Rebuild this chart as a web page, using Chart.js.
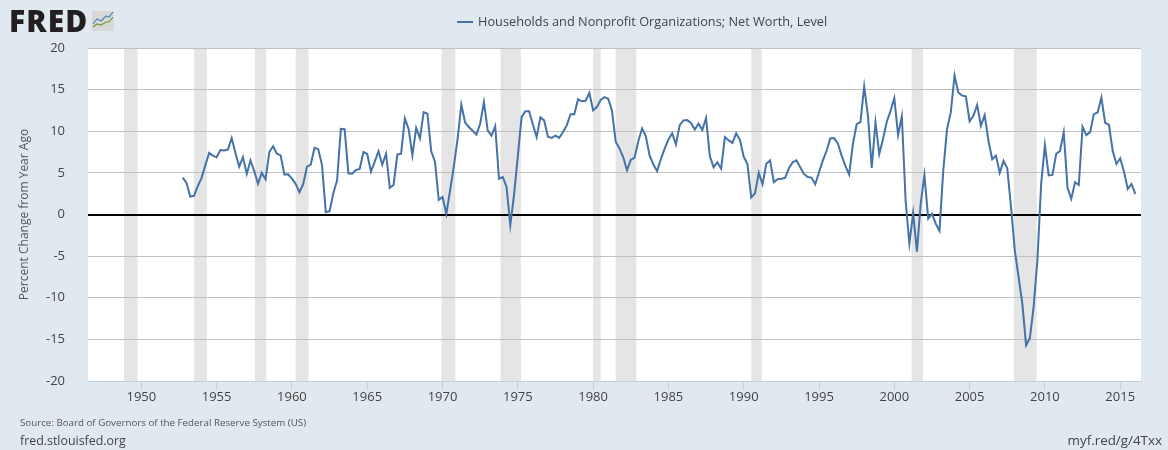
<!DOCTYPE html>
<html>
<head>
<meta charset="utf-8">
<script src="https://cdn.jsdelivr.net/npm/chart.js@4"></script>
<style>
    html, body { margin: 0; padding: 0; background: #e1e9f0; }
    #wrap { position: relative; width: 1168px; height: 450px; overflow: hidden; font-family: 'Open Sans', sans-serif; color: #444; }
    #wrap div { position: absolute; white-space: nowrap; }
    #logo { left: 9px; top: 0px; font-size: 30px; line-height: 42px; font-weight: 800; color: #231f20; letter-spacing: 1.1px; }
    #icon { position: absolute; left: 92px; top: 11px; }
    #legend { left: 457px; top: 12px; font-size: 12.75px; line-height: 18px; color: #444; }
    #legend span { display: inline-block; width: 16px; height: 2px; background: #4572a7; vertical-align: middle; margin-right: 5px; margin-top: -2px; }
    #source { left: 20px; top: 416px; font-size: 9.75px; line-height: 14px; color: #555; }
    #site { left: 20px; top: 432px; font-size: 12.4px; line-height: 17px; color: #444; }
    #short { right: 6px; top: 432px; font-size: 13.4px; line-height: 17px; color: #444; }
</style>
</head>
<body>
<div id="wrap">
    <canvas id="fredChart" width="1168" height="450" style="position:absolute;left:0;top:0"></canvas>
    <div id="logo">FRED</div>
    <svg id="icon" width="22" height="20" viewBox="0 0 22 20">
        <rect width="22" height="20" rx="1.5" fill="#d8d8d8"/>
        <polyline points="1,13 5,8 9,10 14,5 17,6 21,1" fill="none" stroke="#4f86ad" stroke-width="1.2"/>
        <polyline points="1,16 5,13 9,14 14,11 17,11 21,6" fill="none" stroke="#6f9a3a" stroke-width="1.2"/>
    </svg>
    <div id="legend"><span></span>Households and Nonprofit Organizations; Net Worth, Level</div>
    <div id="source">Source: Board of Governors of the Federal Reserve System (US)</div>
    <div id="site">fred.stlouisfed.org</div>
    <div id="short">myf.red/g/4Txx</div>
</div>
<script>
// Percent change from year ago, quarterly, first point is 1952 Q4
const firstQuarter = 1952.75;
const netWorthChange = [
    4.43, 3.8, 2.16, 2.24, 3.4, 4.4, 5.9, 7.4, 7.07, 6.87, 7.74, 7.7, 7.8, 9.18, 7.4, 5.75,
    6.9, 4.87, 6.5, 5.2, 3.7, 5.0, 4.23, 7.5, 8.2, 7.3, 7.1, 4.8, 4.83, 4.3, 3.67, 2.67,
    3.63, 5.75, 6.0, 8.0, 7.85, 5.9, 0.28, 0.4, 2.55, 4.1, 10.3, 10.26, 4.95, 4.9, 5.35, 5.47,
    7.5, 7.27, 5.15, 6.35, 7.6, 6.0, 7.3, 3.2, 3.55, 7.2, 7.3, 11.54, 10.26, 7.1, 10.4, 9.14,
    12.3, 12.1, 7.6, 6.35, 1.76, 2.1, 0.1, 2.85, 5.75, 9.06, 13.2, 11.05, 10.5, 10.06, 9.6, 10.9,
    13.5, 10.1, 9.46, 10.6, 4.3, 4.5, 3.35, -1.28, 2.4, 7.0, 11.7, 12.4, 12.4, 10.8, 9.3, 11.66,
    11.3, 9.34, 9.2, 9.46, 9.2, 9.9, 10.7, 12.05, 12.05, 13.85, 13.6, 13.65, 14.6, 12.5, 12.9, 13.77,
    14.1, 13.9, 12.5, 8.74, 7.94, 6.87, 5.3, 6.55, 6.83, 8.8, 10.34, 9.4, 7.1, 6.0, 5.23, 6.67,
    7.9, 9.0, 9.74, 8.42, 10.74, 11.3, 11.34, 11.0, 10.2, 10.9, 10.14, 11.6, 7.03, 5.67, 6.27, 5.5,
    9.3, 8.9, 8.6, 9.74, 8.94, 6.95, 6.03, 2.04, 2.55, 5.0, 3.63, 6.1, 6.5, 3.87, 4.23, 4.3,
    4.4, 5.55, 6.27, 6.5, 5.67, 4.87, 4.5, 4.43, 3.63, 5.07, 6.47, 7.66, 9.14, 9.18, 8.54, 7.07,
    5.83, 4.8, 8.46, 10.86, 11.1, 15.4, 11.86, 5.6, 11.06, 7.27, 9.06, 11.14, 12.45, 13.97, 9.54, 11.8,
    1.68, -3.5, 0.16, -4.47, 1.28, 4.75, -0.5, 0.08, -1.1, -1.96, 5.27, 10.26, 12.26, 16.7, 14.65, 14.3,
    14.2, 11.2, 11.86, 13.17, 10.66, 11.94, 8.86, 6.63, 7.07, 5.0, 6.43, 5.55, 0.88, -4.3, -7.5, -10.7,
    -15.7, -14.85, -11.1, -5.5, 3.67, 8.34, 4.7, 4.75, 7.3, 7.62, 9.86, 3.2, 1.88, 3.87, 3.55, 10.54,
    9.54, 9.9, 12.06, 12.26, 14.05, 11.0, 10.78, 7.66, 6.07, 6.75, 5.15, 3.07, 3.67, 2.47
];
const recessionStarts = [1948.85, 1953.5, 1957.55, 1960.25, 1969.93, 1973.85, 1980.0, 1981.5, 1990.5, 2001.15, 2007.93];
const recessionEnds = [1949.75, 1954.35, 1958.3, 1961.1, 1970.85, 1975.2, 1980.5, 1982.87, 1991.2, 2001.9, 2009.45];
const xTickYears = [1950, 1955, 1960, 1965, 1970, 1975, 1980, 1985, 1990, 1995, 2000, 2005, 2010, 2015];
const yTickValues = [-20, -15, -10, -5, 0, 5, 10, 15, 20];

const seriesPoints = netWorthChange.map((value, i) => ({ x: firstQuarter + i / 4, y: value }));

// White plot background and grey recession bands, under the grid
const plotBackground = {
    id: 'plotBackground',
    beforeDraw(chart) {
        const { ctx, chartArea, scales } = chart;
        ctx.save();
        ctx.fillStyle = '#ffffff';
        ctx.fillRect(chartArea.left, chartArea.top, chartArea.width, chartArea.height);
        ctx.fillStyle = '#e5e5e5';
        recessionStarts.forEach((start, i) => {
            const x0 = scales.x.getPixelForValue(start);
            const x1 = scales.x.getPixelForValue(recessionEnds[i]);
            ctx.fillRect(x0, chartArea.top, x1 - x0, chartArea.height);
        });
        ctx.restore();
    }
};

new Chart(document.getElementById('fredChart'), {
    type: 'line',
    data: {
        datasets: [{
            label: 'Households and Nonprofit Organizations; Net Worth, Level',
            data: seriesPoints,
            borderColor: '#4572a7',
            borderWidth: 2,
            pointRadius: 0,
            tension: 0
        }]
    },
    options: {
        responsive: false,
        animation: false,
        layout: { padding: { top: 48, right: 27, bottom: 0, left: 0 } },
        plugins: { legend: { display: false }, tooltip: { enabled: false } },
        scales: {
            x: {
                type: 'linear',
                min: 1946.46,
                max: 2016.38,
                afterFit: scale => { scale.height = 69; },
                afterBuildTicks: scale => { scale.ticks = xTickYears.map(value => ({ value })); },
                grid: { drawOnChartArea: false, drawTicks: true, tickLength: 9, color: '#c0d0e0' },
                border: { color: '#c0d0e0' },
                ticks: {
                    color: '#444',
                    maxRotation: 0,
                    padding: -1,
                    font: { family: "'Open Sans'", size: 13 },
                    callback: value => String(value)
                }
            },
            y: {
                min: -20,
                max: 20,
                afterFit: scale => { scale.width = 88; },
                afterBuildTicks: scale => { scale.ticks = yTickValues.map(value => ({ value })); },
                grid: {
                    drawTicks: false,
                    color: ctx => ctx.tick && ctx.tick.value === 0 ? '#000000' : '#c0c0c0',
                    lineWidth: ctx => ctx.tick && ctx.tick.value === 0 ? 2 : 1
                },
                border: { display: false },
                title: {
                    display: true,
                    text: 'Percent Change from Year Ago',
                    color: '#555',
                    font: { family: "'Open Sans'", size: 12 },
                    padding: { top: 17, bottom: 0 }
                },
                ticks: {
                    color: '#444',
                    padding: 23,
                    font: { family: "'Open Sans'", size: 13 }
                }
            }
        }
    },
    plugins: [plotBackground]
});
</script>
</body>
</html>
